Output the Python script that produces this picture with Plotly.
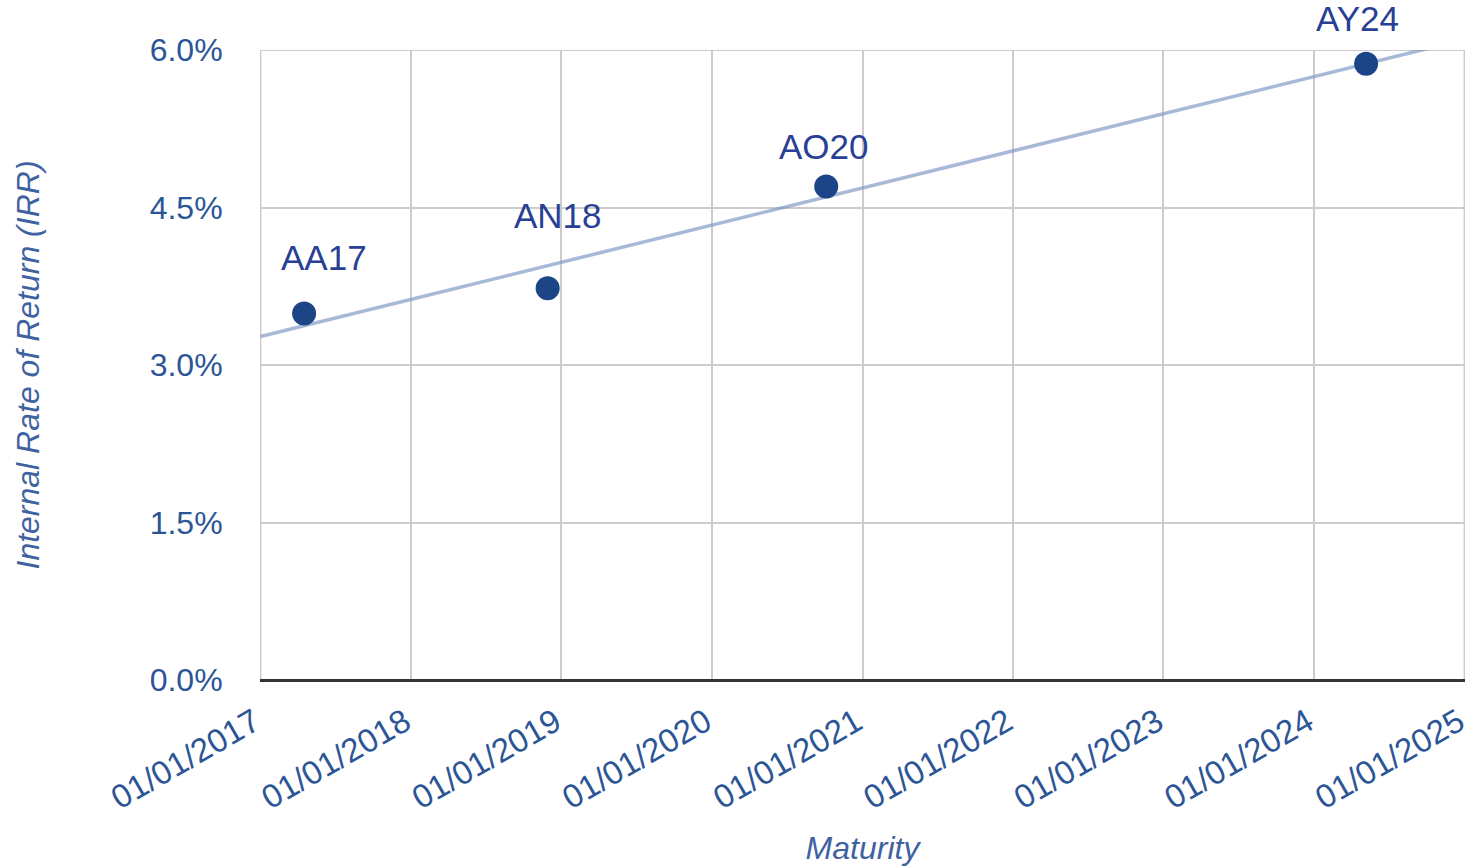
import numpy as np
import pandas as pd
import plotly.graph_objects as go

# Bond maturities and their internal rate of return (%)
bonds = ["AA17", "AN18", "AO20", "AY24"]
maturities = ["2017-04-17", "2018-11-29", "2020-10-05", "2024-05-07"]
irr = [3.49, 3.73, 4.70, 5.87]

# Label offsets (px) so the tags sit clear of the markers
label_dx = [20, 10, -2, -9]
label_dy = [56, 73, 40, 45]

y_ticks = [0.0, 1.5, 3.0, 4.5, 6.0]
x_start, x_end = "2017-01-01", "2025-01-01"

TEXT = "#2c5596"
DOT = "#1c4587"
TREND = "rgba(120,148,192,0.65)"
GRID = "#cccccc"
FONT = "Liberation Sans, Arial, sans-serif"

# Linear trendline fitted on maturity in years
dates = pd.to_datetime(maturities)
origin = pd.Timestamp(x_start)
years = np.array([(d - origin).days / 365.25 for d in dates])
slope, intercept = np.polyfit(years, np.array(irr), 1)
trend_x = pd.to_datetime([x_start, x_end])
trend_years = np.array([(d - origin).days / 365.25 for d in trend_x])
trend_y = intercept + slope * trend_years

# Pad the date range slightly so the end tick labels render
pad = pd.Timedelta(days=1)
x_range = [pd.Timestamp(x_start) - pad, pd.Timestamp(x_end) + pad]

fig = go.Figure()
fig.add_trace(go.Scatter(
    x=trend_x, y=trend_y, mode="lines",
    line=dict(color=TREND, width=3.5),
    hoverinfo="skip", showlegend=False,
))
fig.add_trace(go.Scatter(
    x=dates, y=irr, mode="markers",
    marker=dict(color=DOT, size=24),
    text=bonds, showlegend=False,
))

for name, d, v, dx, dy in zip(bonds, dates, irr, label_dx, label_dy):
    fig.add_annotation(
        x=d, y=v, text=name, showarrow=False,
        xshift=dx, yshift=dy,
        font=dict(family=FONT, size=35, color="#283f94"),
    )

# Frame lines at the first/last year and at the top of the value axis
for xv in (x_start, x_end):
    fig.add_shape(type="line", xref="x", yref="paper", x0=xv, x1=xv, y0=0, y1=1,
                  line=dict(color=GRID, width=2), layer="below")
fig.add_shape(type="line", xref="paper", yref="y", x0=0, x1=1, y0=y_ticks[-1], y1=y_ticks[-1],
              line=dict(color=GRID, width=2), layer="below")

fig.update_layout(
    width=1470, height=866,
    margin=dict(l=260, r=5, t=50, b=186),
    paper_bgcolor="white", plot_bgcolor="white",
    font=dict(family=FONT, color=TEXT),
)
fig.update_xaxes(
    range=x_range, dtick="M12", tick0=x_start,
    tickformat="%m/%d/%Y", tickangle=-30,
    tickfont=dict(size=33, color=TEXT),
    ticklabeloverflow="allow", automargin=False, ticklabelshift=-6,
    showgrid=True, gridcolor=GRID, gridwidth=2,
    zeroline=False, showline=False,
    ticks="outside", ticklen=9, tickcolor="rgba(0,0,0,0)",
    title=dict(text="<i>Maturity</i>", font=dict(size=32, color="#3f62a0"), standoff=22),
)
fig.update_yaxes(
    range=[0, 6], tickvals=y_ticks,
    ticktext=[f"{v:.1f}%" for v in y_ticks],
    tickfont=dict(size=32, color=TEXT),
    automargin=False,
    showgrid=True, gridcolor=GRID, gridwidth=2,
    zeroline=True, zerolinecolor="#333333", zerolinewidth=2.5,
    showline=False,
    ticks="outside", ticklen=30, tickcolor="rgba(0,0,0,0)",
    title=dict(text="<i>Internal Rate of Return (IRR)</i>", font=dict(size=32, color="#3f62a0"), standoff=100),
)
fig.write_html("out.html")
